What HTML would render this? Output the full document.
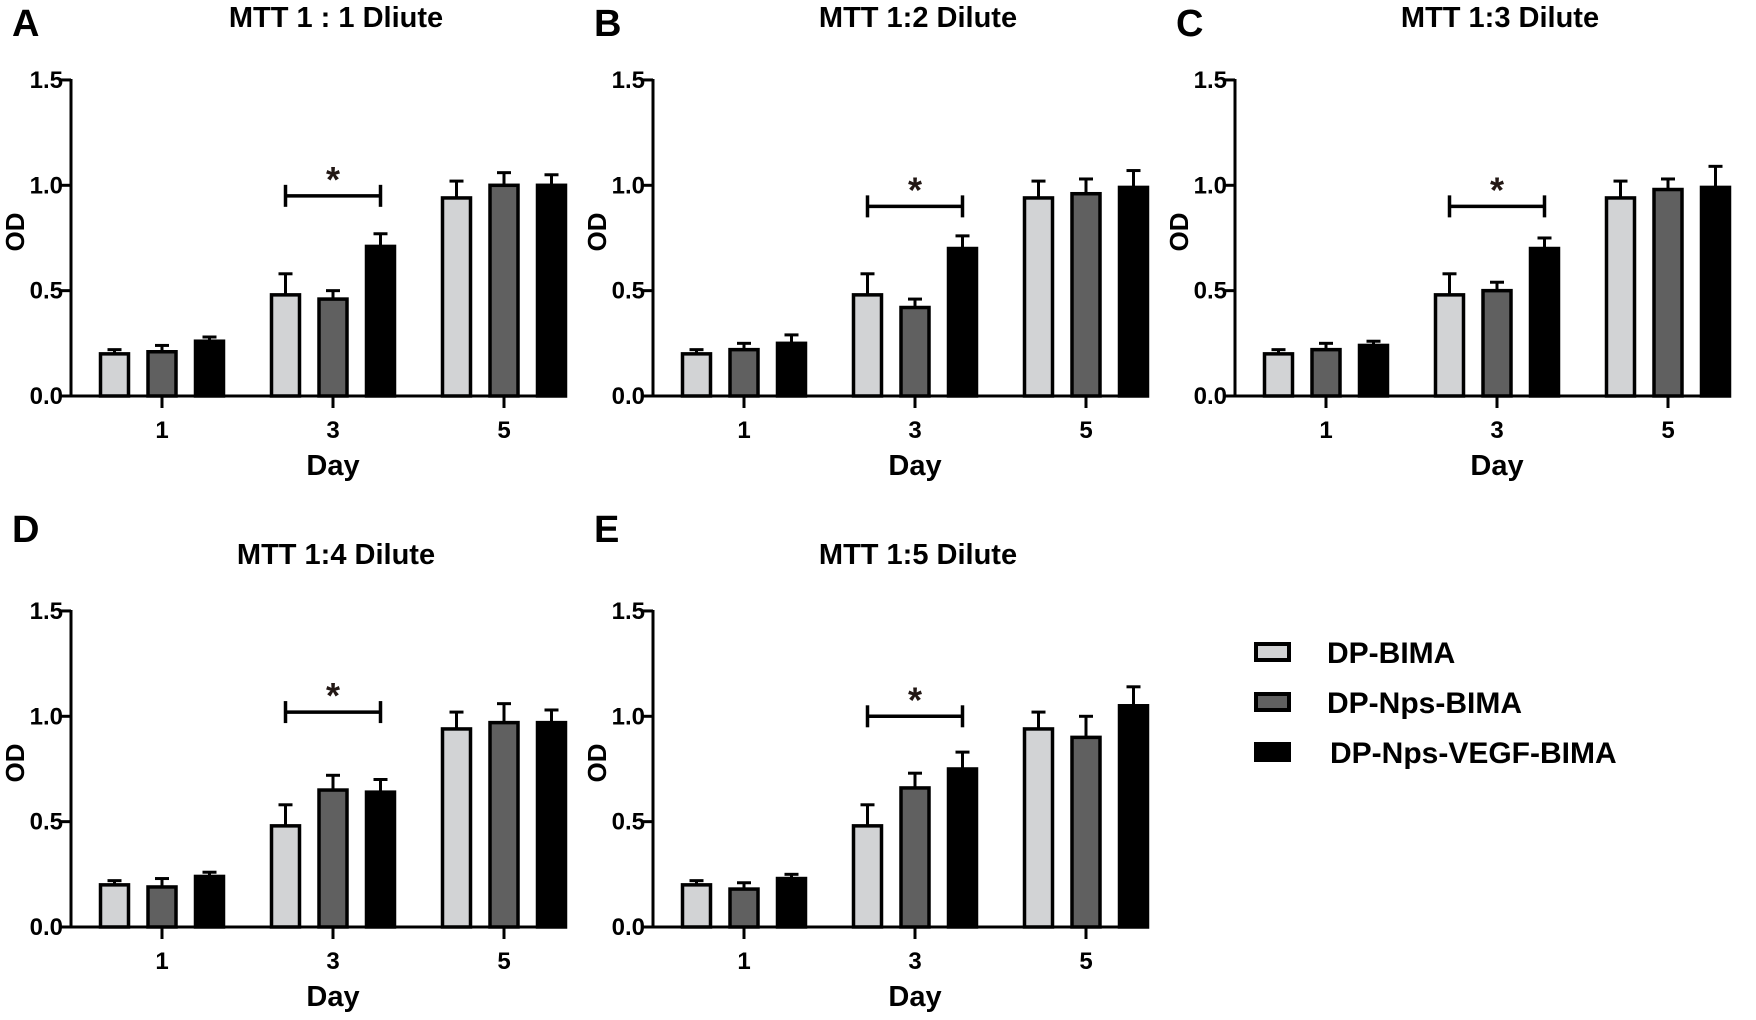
<!DOCTYPE html>
<html><head><meta charset="utf-8"><style>
html,body{margin:0;padding:0;background:#fff;}
svg{display:block;font-family:"Liberation Sans",Arial,sans-serif;font-weight:bold;}
</style></head>
<body>
<svg id="fig" width="1756" height="1020" viewBox="0 0 1756 1020" xmlns="http://www.w3.org/2000/svg"></svg>
<script>
const days = ["1","3","5"];
const seriesNames = ["DP-BIMA","DP-Nps-BIMA","DP-Nps-VEGF-BIMA"];
const yTicks = [0,0.5,1.0,1.5];
const yTickLabels = ["0.0","0.5","1.0","1.5"];
const panelLetters = ["A","B","C","D","E"];
const panelTitles = ["MTT 1 : 1 Dliute","MTT 1:2 Dilute","MTT 1:3 Dilute","MTT 1:4 Dilute","MTT 1:5 Dilute"];
// values[series][day]
const valA = [[0.20,0.48,0.94],[0.21,0.46,1.00],[0.26,0.71,1.00]];
const errA = [[0.02,0.10,0.08],[0.03,0.04,0.06],[0.02,0.06,0.05]];
const valB = [[0.20,0.48,0.94],[0.22,0.42,0.96],[0.25,0.70,0.99]];
const errB = [[0.02,0.10,0.08],[0.03,0.04,0.07],[0.04,0.06,0.08]];
const valC = [[0.20,0.48,0.94],[0.22,0.50,0.98],[0.24,0.70,0.99]];
const errC = [[0.02,0.10,0.08],[0.03,0.04,0.05],[0.02,0.05,0.10]];
const valD = [[0.20,0.48,0.94],[0.19,0.65,0.97],[0.24,0.64,0.97]];
const errD = [[0.02,0.10,0.08],[0.04,0.07,0.09],[0.02,0.06,0.06]];
const valE = [[0.20,0.48,0.94],[0.18,0.66,0.90],[0.23,0.75,1.05]];
const errE = [[0.02,0.10,0.08],[0.03,0.07,0.10],[0.02,0.08,0.09]];
const bracketLevels = [0.95,0.90,0.90,1.02,1.00];

const allVals=[valA,valB,valC,valD,valE];
const allErrs=[errA,errB,errC,errD,errE];
const fills=["#d2d3d5","#606060","#000000"];
const NS="http://www.w3.org/2000/svg";
const svg=document.getElementById('fig');
function mk(tag,attrs,parent,text){const e=document.createElementNS(NS,tag);for(const k in attrs)e.setAttribute(k,attrs[k]);if(text!==undefined)e.textContent=text;(parent||svg).appendChild(e);return e;}

const origins=[[71,396],[653,396],[1235,396],[71,927],[653,927]];
const yScalePx=210.7, axisLen=478, groupStep=171, firstGroup=91, barOff=47.5, barW=28;

origins.forEach(([ox,oy],p)=>{
  const g=mk('g',{});
  
  
  const y=v=>oy-v*yScalePx;
  const xg=i=>ox+firstGroup+i*groupStep;
  const row2=p>=3;
  const L=mk('text',{x:ox-59,y:row2?oy-385:oy-360,'font-size':38},g,panelLetters[p]);
  
  const T=mk('text',{x:ox+265,y:row2?oy-363:oy-369,'font-size':29,'text-anchor':'middle'},g,panelTitles[p]);
  
  const ya=mk('line',{x1:ox,y1:y(1.5)-1,x2:ox,y2:oy+1.5,stroke:'#000','stroke-width':3},g);
  
  const xa=mk('line',{x1:ox-10,y1:oy,x2:ox+axisLen,y2:oy,stroke:'#000','stroke-width':3},g);
  
  yTicks.forEach((t,i)=>{
    mk('line',{x1:ox-10,y1:y(t),x2:ox,y2:y(t),stroke:'#000','stroke-width':3},g);
    const tl=mk('text',{x:ox-8,y:y(t)+8,'font-size':24,'text-anchor':'end'},g,yTickLabels[i]);
    
  });
  days.forEach((d,i)=>{
    mk('line',{x1:xg(i),y1:oy,x2:xg(i),y2:oy+12,stroke:'#000','stroke-width':3},g);
    const tl=mk('text',{x:xg(i),y:oy+42,'font-size':24,'text-anchor':'middle'},g,d);
    
  });
  const xt=mk('text',{x:xg(1),y:oy+79,'font-size':29,'text-anchor':'middle'},g,'Day');
  
  const yt=mk('text',{x:0,y:0,'font-size':26,'text-anchor':'middle',transform:`translate(${ox-47},${oy-164}) rotate(-90)`},g,'OD');
  
  const vals=allVals[p], errs=allErrs[p];
  vals.forEach((ser,s)=>{
    ser.forEach((v,i)=>{
      const cx=xg(i)+(s-1)*barOff;
      const e=errs[s][i];
      const el=mk('line',{x1:cx,y1:y(v),x2:cx,y2:y(v+e),stroke:'#000','stroke-width':3},g);
      
      mk('line',{x1:cx-7,y1:y(v+e),x2:cx+7,y2:y(v+e),stroke:'#000','stroke-width':3},g);
      const r=mk('rect',{x:cx-barW/2,y:y(v),width:barW,height:v*yScalePx,fill:fills[s],stroke:'#000','stroke-width':3.5},g);
      
      
    });
  });
  const by=y(bracketLevels[p]);
  const x1=xg(1)-barOff, x2=xg(1)+barOff;
  const br=mk('g',{},g);
  
  mk('line',{x1:x1,y1:by,x2:x2,y2:by,stroke:'#000','stroke-width':3.5},br);
  mk('line',{x1:x1,y1:by-11,x2:x1,y2:by+11,stroke:'#000','stroke-width':3.5},br);
  mk('line',{x1:x2,y1:by-11,x2:x2,y2:by+11,stroke:'#000','stroke-width':3.5},br);
  mk('text',{x:(x1+x2)/2,y:by-4,'font-size':36,'text-anchor':'middle',fill:'#231815'},br,'*');
});

const lg=mk('g',{});

seriesNames.forEach((n,s)=>{
  const cy=652+s*50;
  const e=mk('g',{},lg);
  
  mk('rect',{x:1256,y:cy-8,width:33,height:16,fill:fills[s],stroke:'#000','stroke-width':4},e);
  mk('text',{x:s===2?1330:1327,y:cy+11,'font-size':30},e,n);
});
</script>
</body></html>
